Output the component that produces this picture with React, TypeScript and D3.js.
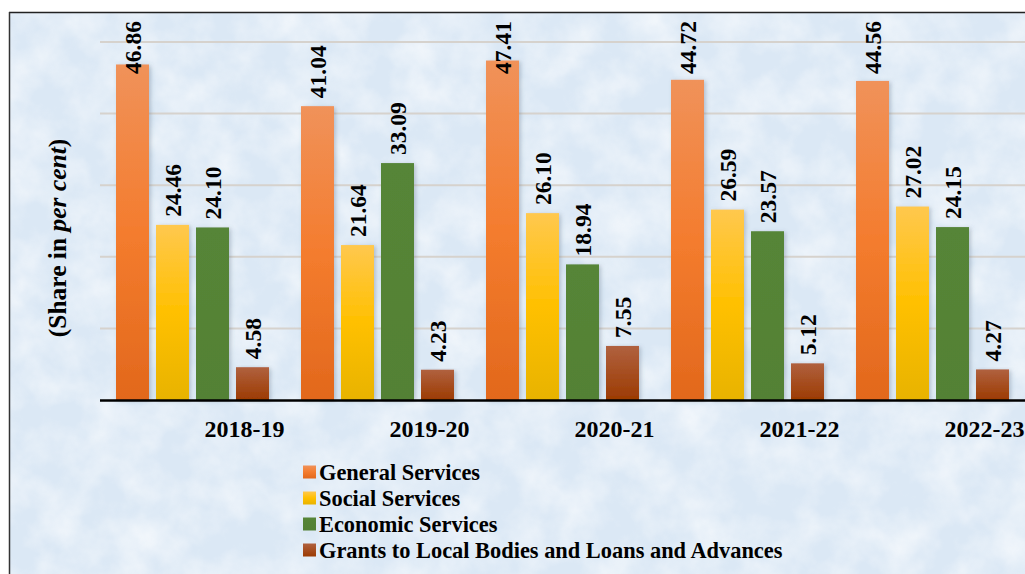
import React from "react";
import * as d3 from "d3";

const years = ["2018-19", "2019-20", "2020-21", "2021-22", "2022-23"];
const seriesNames = [
  "General Services",
  "Social Services",
  "Economic Services",
  "Grants to Local Bodies and Loans and Advances",
];
const generalServices = [46.86, 41.04, 47.41, 44.72, 44.56];
const socialServices = [24.46, 21.64, 26.1, 26.59, 27.02];
const economicServices = [24.1, 33.09, 18.94, 23.57, 24.15];
const grantsLoans = [4.58, 4.23, 7.55, 5.12, 4.27];
const yTicks = [0, 10, 20, 30, 40, 50];

const seriesValues = [generalServices, socialServices, economicServices, grantsLoans];
const gradIds = ["gGS", "gSS", "gES", "gGR"];

const W = 1025;
const H = 574;

export default function App() {
  const x0 = d3.scaleBand<string>().domain(years).range([100, 1025]).paddingInner(0).paddingOuter(0);
  const x1 = d3
    .scaleBand<string>()
    .domain(seriesNames)
    .range([16, 185 - 16])
    .paddingInner(0.175)
    .paddingOuter(0);
  const y = d3.scaleLinear().domain([0, 50]).range([400, 42]);
  const fs = 23.5;
  const labelLen = (s: string) => {
    let l = 0;
    for (const c of s) l += c === "." ? 0.25 : 0.5;
    return l * fs;
  };

  return (
    <svg
      width={W}
      height={H}
      viewBox={`0 0 ${W} ${H}`}
      style={{ position: "absolute", left: 0, top: 0, fontFamily: "'Liberation Serif', 'Times New Roman', serif" }}
    >
      <defs>
        <linearGradient id="gGS" x1="0" y1="0" x2="0" y2="1">
          <stop offset="0" stopColor="#f0925a" />
          <stop offset="0.5" stopColor="#f47c2e" />
          <stop offset="1" stopColor="#e2681c" />
        </linearGradient>
        <linearGradient id="gSS" x1="0" y1="0" x2="0" y2="1">
          <stop offset="0" stopColor="#ffc84e" />
          <stop offset="0.5" stopColor="#ffc000" />
          <stop offset="1" stopColor="#e8b300" />
        </linearGradient>
        <linearGradient id="gES" x1="0" y1="0" x2="0" y2="1">
          <stop offset="0" stopColor="#568537" />
          <stop offset="1" stopColor="#538135" />
        </linearGradient>
        <linearGradient id="gGR" x1="0" y1="0" x2="0" y2="1">
          <stop offset="0" stopColor="#b0613f" />
          <stop offset="1" stopColor="#9c3b02" />
        </linearGradient>
        <filter id="tex" x="0" y="0" width="100%" height="100%">
          <feTurbulence type="fractalNoise" baseFrequency="0.025" numOctaves="4" seed="7" result="n" />
          <feColorMatrix
            in="n"
            type="matrix"
            values="0 0 0 0 1  0 0 0 0 1  0 0 0 0 1  1.5 0 0 0 -0.5"
          />
        </filter>
        <filter id="shadow" x="-20%" y="-5%" width="150%" height="115%">
          <feDropShadow dx="2" dy="1" stdDeviation="2" floodColor="#5a6e86" floodOpacity="0.35" />
        </filter>
      </defs>

      <rect x={0} y={0} width={W} height={H} fill="#ffffff" />
      <rect x={9} y={12} width={W - 9} height={H - 12} fill="#dbe8f5" />
      <rect x={9} y={12} width={W - 9} height={H - 12} filter="url(#tex)" opacity={0.7} />
      <line x1={9} y1={12.5} x2={W} y2={12.5} stroke="#222" strokeWidth={1.5} />
      <line x1={9.5} y1={12} x2={9.5} y2={H} stroke="#333" strokeWidth={1.5} />

      {/* gridlines */}
      {yTicks
        .filter((t) => t > 0)
        .map((t) => (
          <line key={t} x1={100} x2={W} y1={y(t)} y2={y(t)} stroke="#d6d2cd" strokeWidth={2} />
        ))}

      {/* bars */}
      {years.map((yr, i) => (
        <g key={yr} transform={`translate(${x0(yr)},0)`}>
          {seriesNames.map((s, j) => {
            const v = seriesValues[j][i];
            const bx = x1(s)!;
            const bw = x1.bandwidth();
            return (
              <rect
                key={s}
                x={bx}
                y={y(v)}
                width={bw}
                height={y(0) - y(v)}
                fill={`url(#${gradIds[j]})`}
                filter="url(#shadow)"
              />
            );
          })}
        </g>
      ))}

      {/* baseline */}
      <line x1={100} x2={W} y1={y(0) + 0.5} y2={y(0) + 0.5} stroke="#000" strokeWidth={2.5} />

      {/* value labels */}
      {years.map((yr, i) =>
        seriesNames.map((s, j) => {
          const v = seriesValues[j][i];
          const txt = v.toFixed(2);
          const cx = x0(yr)! + x1(s)! + x1.bandwidth() / 2;
          const len = labelLen(txt);
          const ys = Math.max(y(v) - 8, 21 + len);
          return (
            <text
              key={yr + s}
              transform={`translate(${cx},${ys}) rotate(-90)`}
              textAnchor="start"
              dominantBaseline="central"
              fontSize={fs}
              fontWeight="bold"
              fill="#000"
            >
              {txt}
            </text>
          );
        })
      )}

      {/* category labels */}
      {years.map((yr) => (
        <text
          key={yr}
          x={x0(yr)! + x0.bandwidth() / 2 + 52}
          y={437}
          textAnchor="middle"
          fontSize={24}
          fontWeight="bold"
          fill="#000"
        >
          {yr}
        </text>
      ))}

      {/* y axis title */}
      <text
        transform="translate(57,238) rotate(-90)"
        textAnchor="middle"
        dominantBaseline="central"
        fontSize={25.5}
        fontWeight="bold"
        fill="#000"
      >
        (Share in <tspan fontStyle="italic">per cent</tspan>)
      </text>

      {/* legend */}
      {seriesNames.map((s, j) => {
        const cy = 472 + j * 26;
        return (
          <g key={s}>
            <rect x={303} y={cy - 6.5} width={13} height={13} fill={`url(#${gradIds[j]})`} />
            <text x={319} y={cy + 7.5} fontSize={22.4} fontWeight="bold" fill="#000">
              {s}
            </text>
          </g>
        );
      })}
    </svg>
  );
}
